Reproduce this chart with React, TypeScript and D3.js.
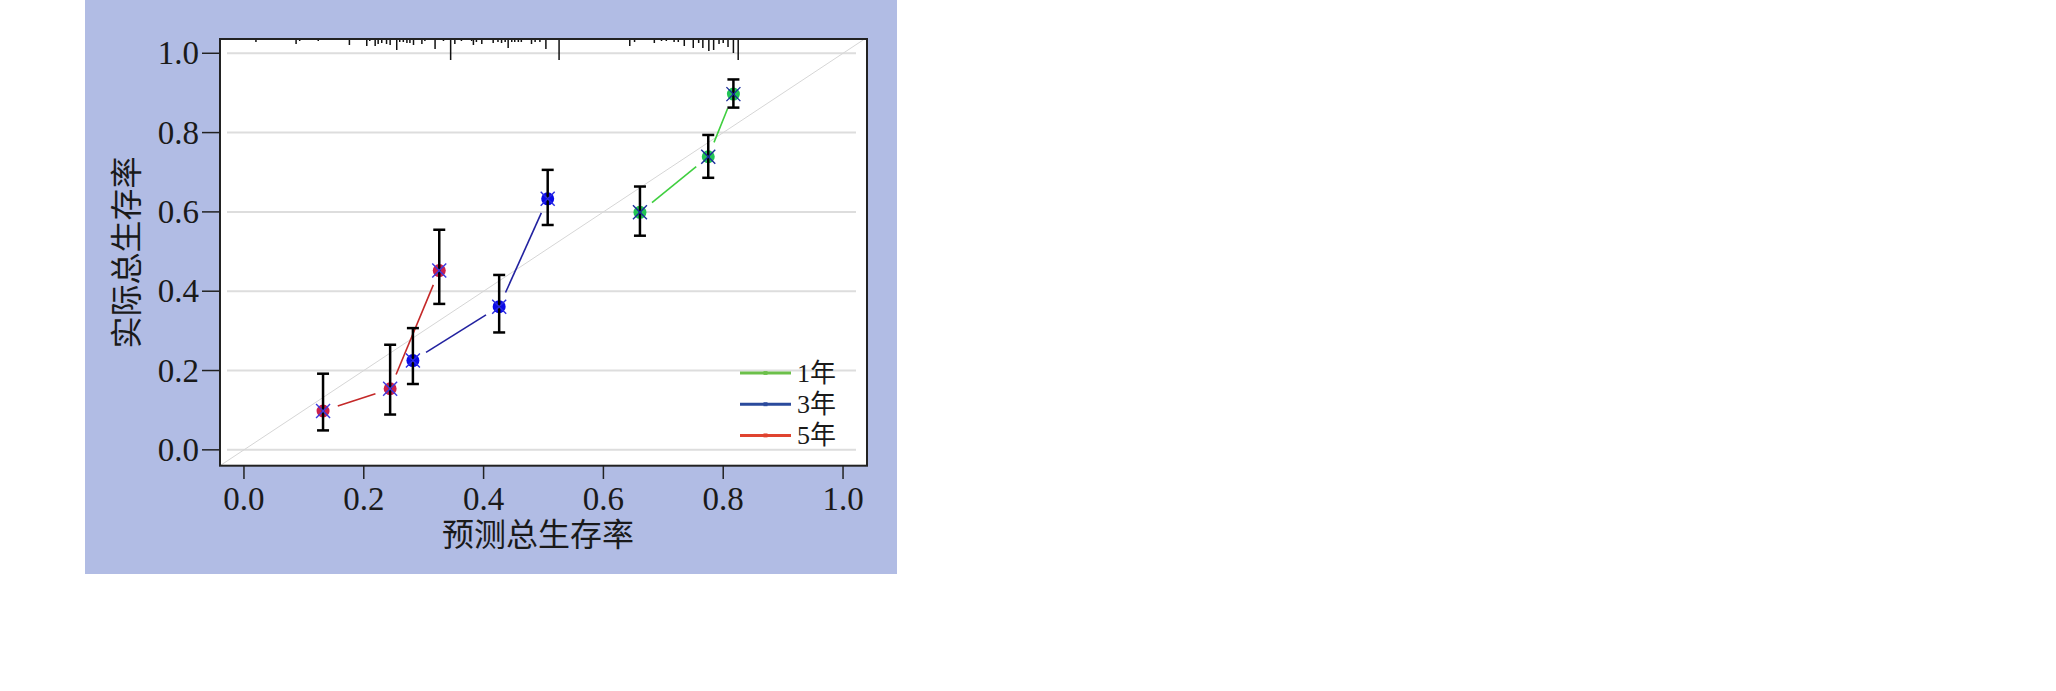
import React from "react";
import * as d3 from "d3";

const W = 2056;
const H = 691;

// Calibration points per series
const pred1 = [0.661, 0.775, 0.817];
const obs1 = [0.599, 0.739, 0.897];
const lo1 = [0.540, 0.686, 0.863];
const hi1 = [0.664, 0.794, 0.934];

const pred3 = [0.282, 0.426, 0.507];
const obs3 = [0.225, 0.361, 0.633];
const lo3 = [0.166, 0.296, 0.567];
const hi3 = [0.307, 0.441, 0.706];

const pred5 = [0.132, 0.244, 0.326];
const obs5 = [0.098, 0.154, 0.452];
const lo5 = [0.049, 0.089, 0.368];
const hi5 = [0.192, 0.265, 0.555];

const seriesNames = ["1年", "3年", "5年"];
const xTicks = [0, 0.2, 0.4, 0.6, 0.8, 1.0];
const yTicks = [0, 0.2, 0.4, 0.6, 0.8, 1.0];

// Rug of predicted values (value, spike height)
const rugValues = [
  0.002, 0.02, 0.05, 0.087, 0.093, 0.124, 0.15, 0.176, 0.205, 0.21, 0.219, 0.224, 0.23, 0.238,
  0.244, 0.255, 0.26, 0.266, 0.272, 0.277, 0.283, 0.297, 0.302, 0.319, 0.333, 0.345, 0.352,
  0.363, 0.38, 0.383, 0.388, 0.397, 0.416, 0.424, 0.43, 0.436, 0.441, 0.447, 0.452, 0.458,
  0.463, 0.48, 0.486, 0.494, 0.504, 0.526, 0.56, 0.602, 0.627, 0.644, 0.652, 0.669, 0.685,
  0.697, 0.705, 0.718, 0.725, 0.735, 0.75, 0.759, 0.766, 0.776, 0.784, 0.793, 0.8, 0.808,
  0.817, 0.825,
];
const rugHeights = [
  1, 3, 1, 5, 2, 2, 1, 6, 7, 2, 7, 5, 4, 5,
  6, 11, 3, 3, 4, 4, 6, 5, 2, 10, 2, 21, 5,
  2, 2, 6, 3, 5, 4, 3, 4, 3, 9, 3, 3, 3,
  3, 5, 3, 3, 10, 21, 1, 1, 1, 7, 3, 1, 4,
  2, 2, 3, 3, 7, 9, 4, 9, 12, 11, 5, 4, 8,
  14, 21,
];

const lineColors = ["#3fcf3f", "#2222a0", "#c42828"];
const dotColors = ["#22c455", "#0a0ae8", "#cc1f4a"];
const xColors = ["#1a2a9a", "#2a2ae0", "#3a3ae0"];
const legendColors = ["#6cc04a", "#2a4a9c", "#e04430"];

const FONT = "'Liberation Serif', 'Times New Roman', 'Noto Sans CJK SC', serif";

export default function App() {
  const left = 220, right = 867, top = 39, bottom = 465.7;
  const x = d3.scaleLinear().domain([-0.04, 1.04]).range([left, right]);
  const y = d3.scaleLinear().domain([-0.04, 1.036]).range([bottom, top]);

  const series = [
    { p: pred1, o: obs1, lo: lo1, hi: hi1 },
    { p: pred3, o: obs3, lo: lo3, hi: hi3 },
    { p: pred5, o: obs5, lo: lo5, hi: hi5 },
  ];

  const gap = 15.5;
  const segs: JSX.Element[] = [];
  series.forEach((s, si) => {
    for (let i = 0; i < s.p.length - 1; i++) {
      const x1 = x(s.p[i]), y1 = y(s.o[i]);
      const x2 = x(s.p[i + 1]), y2 = y(s.o[i + 1]);
      const len = Math.hypot(x2 - x1, y2 - y1);
      if (len <= 2 * gap) continue;
      const ux = (x2 - x1) / len, uy = (y2 - y1) / len;
      segs.push(
        <line key={`seg-${si}-${i}`} x1={x1 + ux * gap} y1={y1 + uy * gap}
          x2={x2 - ux * gap} y2={y2 - uy * gap}
          stroke={lineColors[si]} strokeWidth={1.6} />
      );
    }
  });

  return (
    <svg width={W} height={H} style={{ position: "absolute", left: 0, top: 0 }}
      fontFamily={FONT}>
      <rect x={0} y={0} width={W} height={H} fill="#ffffff" />
      <rect x={85} y={0} width={812} height={574} fill="#b1bce4" />
      <rect x={left} y={top} width={right - left} height={bottom - top} fill="#ffffff" />

      {/* grid */}
      {yTicks.map((t) => (
        <line key={`g${t}`} x1={227} x2={856} y1={y(t)} y2={y(t)} stroke="#dddddd" strokeWidth={2} />
      ))}

      {/* diagonal */}
      <line x1={x(-0.04)} y1={y(-0.04)} x2={x(1.036)} y2={y(1.036)} stroke="#d6d6d6" strokeWidth={1} />

      {/* rug */}
      {rugValues.map((v, i) => (
        <line key={`r${i}`} x1={x(v)} x2={x(v)} y1={top} y2={top + rugHeights[i]}
          stroke="#111" strokeWidth={1.5} />
      ))}

      {/* connecting lines */}
      {segs}

      {/* markers and error bars */}
      {series.map((s, si) =>
        s.p.map((p, i) => {
          const cx = x(p), cy = y(s.o[i]);
          return (
            <g key={`m${si}-${i}`}>
              <circle cx={cx} cy={cy} r={6.5} fill={dotColors[si]} />
              <line x1={cx} x2={cx} y1={y(s.hi[i])} y2={y(s.lo[i])} stroke="#000" strokeWidth={2.5} />
              <line x1={cx - 6} x2={cx + 6} y1={y(s.hi[i])} y2={y(s.hi[i])} stroke="#000" strokeWidth={2.5} />
              <line x1={cx - 6} x2={cx + 6} y1={y(s.lo[i])} y2={y(s.lo[i])} stroke="#000" strokeWidth={2.5} />
              <line x1={cx - 7} x2={cx + 7} y1={cy - 7} y2={cy + 7} stroke={xColors[si]} strokeWidth={1.4} />
              <line x1={cx - 7} x2={cx + 7} y1={cy + 7} y2={cy - 7} stroke={xColors[si]} strokeWidth={1.4} />
            </g>
          );
        })
      )}

      {/* box */}
      <rect x={left} y={top} width={right - left} height={bottom - top} fill="none" stroke="#222" strokeWidth={2} />

      {/* y axis */}
      {yTicks.map((t) => (
        <g key={`yt${t}`}>
          <line x1={202} x2={left} y1={y(t)} y2={y(t)} stroke="#222" strokeWidth={1.5} />
          <text x={199} y={y(t)} dy="0.34em" textAnchor="end" fontSize={33} fill="#1a1a1a">
            {d3.format(".1f")(t)}
          </text>
        </g>
      ))}

      {/* x axis */}
      {xTicks.map((t) => (
        <g key={`xt${t}`}>
          <line x1={x(t)} x2={x(t)} y1={bottom} y2={479} stroke="#222" strokeWidth={1.5} />
          <text x={x(t)} y={510} textAnchor="middle" fontSize={33} fill="#1a1a1a">
            {d3.format(".1f")(t)}
          </text>
        </g>
      ))}

      <text x={538} y={546} textAnchor="middle" fontSize={32} fill="#1a1a1a">预测总生存率</text>
      <text transform={`translate(127,252.5) rotate(-90)`} textAnchor="middle" dominantBaseline="central"
        fontSize={32} fill="#1a1a1a">实际总生存率</text>

      {/* legend */}
      {seriesNames.map((name, i) => {
        const ly = 373 + i * 31.2;
        return (
          <g key={`lg${i}`}>
            <line x1={740} x2={791} y1={ly} y2={ly} stroke={legendColors[i]} strokeWidth={3} />
            <rect x={763.5} y={ly - 2} width={4} height={4} fill={legendColors[i]} opacity={0.9} />
            <text x={797} y={ly + 9} fontSize={26} fill="#1a1a1a">{name}</text>
          </g>
        );
      })}
    </svg>
  );
}
